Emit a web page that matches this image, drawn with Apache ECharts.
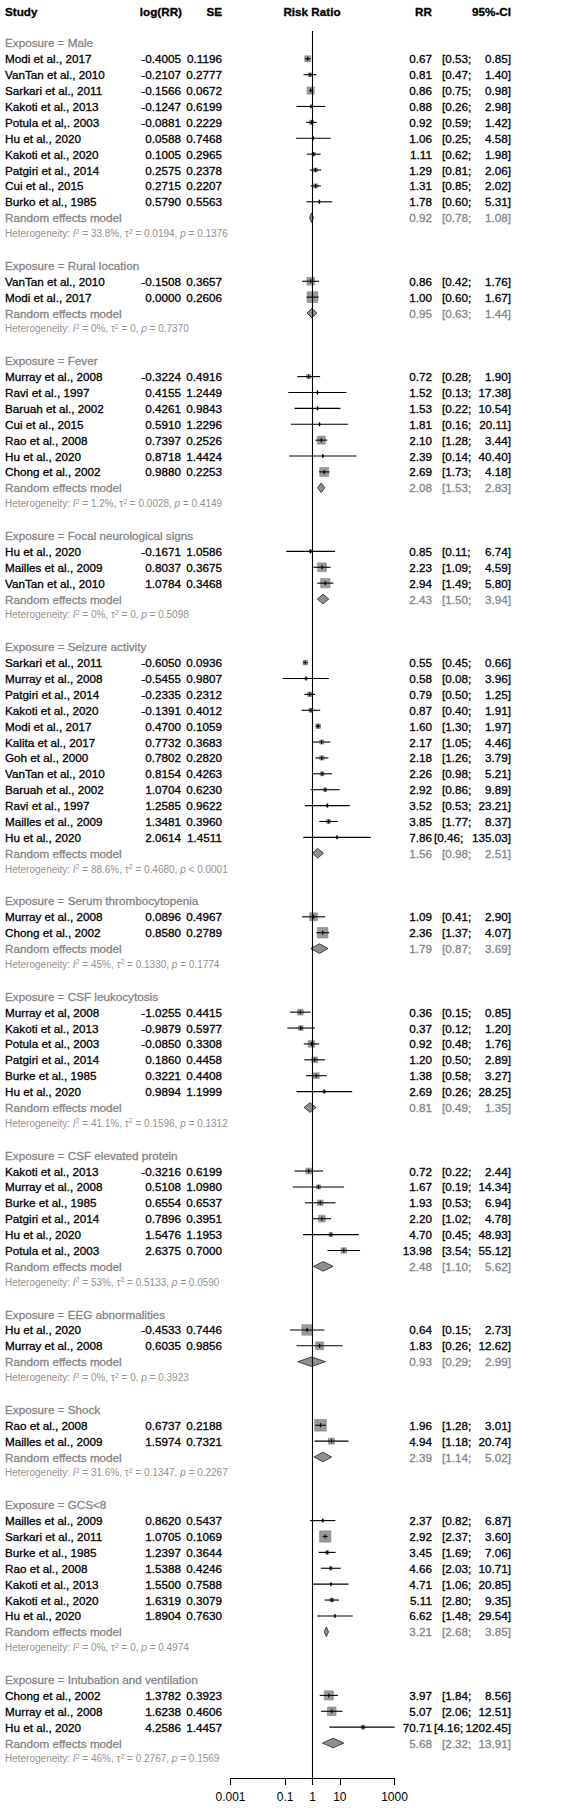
<!DOCTYPE html>
<html><head><meta charset="utf-8">
<script src="https://cdn.jsdelivr.net/npm/echarts@6/dist/echarts.min.js"></script>
<style>html,body{margin:0;padding:0;background:#fff}#c{width:586px;height:1813px}</style>
</head><body><div id="c"></div>
<script>
// ---------- DATA ----------
const groupNames = ['Male','Rural location','Fever','Focal neurological signs','Seizure activity','Serum thrombocytopenia','CSF leukocytosis','CSF elevated protein','EEG abnormalities','Shock','GCS<8','Intubation and ventilation'];
const groupSizes = [10,2,7,3,12,2,6,6,2,2,7,3];
const studyNames = [
 'Modi et al., 2017','VanTan et al., 2010','Sarkari et al., 2011','Kakoti et al., 2013','Potula et al,. 2003','Hu et al., 2020','Kakoti et al., 2020','Patgiri et al., 2014','Cui et al., 2015','Burko et al., 1985',
 'VanTan et al., 2010','Modi et al., 2017',
 'Murray et al., 2008','Ravi et al., 1997','Baruah et al., 2002','Cui et al., 2015','Rao et al., 2008','Hu et al., 2020','Chong et al., 2002',
 'Hu et al., 2020','Mailles et al., 2009','VanTan et al., 2010',
 'Sarkari et al., 2011','Murray et al., 2008','Patgiri et al., 2014','Kakoti et al., 2020','Modi et al., 2017','Kalita et al., 2017','Goh et al., 2000','VanTan et al., 2010','Baruah et al., 2002','Ravi et al., 1997','Mailles et al., 2009','Hu et al., 2020',
 'Murray et al., 2008','Chong et al., 2002',
 'Murray et al, 2008','Kakoti et al., 2013','Potula et al., 2003','Patgiri et al., 2014','Burke et al., 1985','Hu et al., 2020',
 'Kakoti et al., 2013','Murray et al., 2008','Burke et al., 1985','Patgiri et al., 2014','Hu et al., 2020','Potula et al., 2003',
 'Hu et al., 2020','Murray et al., 2008',
 'Rao et al., 2008','Mailles et al., 2009',
 'Mailles et al., 2009','Sarkari et al., 2011','Burke et al., 1985','Rao et al., 2008','Kakoti et al., 2013','Kakoti et al., 2020','Hu et al., 2020',
 'Chong et al., 2002','Murray et al., 2008','Hu et al., 2020'
];
const logRR = [
 -0.4005,-0.2107,-0.1566,-0.1247,-0.0881,0.0588,0.1005,0.2575,0.2715,0.5790,
 -0.1508,0.0000,
 -0.3224,0.4155,0.4261,0.5910,0.7397,0.8718,0.9880,
 -0.1671,0.8037,1.0784,
 -0.6050,-0.5455,-0.2335,-0.1391,0.4700,0.7732,0.7802,0.8154,1.0704,1.2585,1.3481,2.0614,
 0.0896,0.8580,
 -1.0255,-0.9879,-0.0850,0.1860,0.3221,0.9894,
 -0.3216,0.5108,0.6554,0.7896,1.5476,2.6375,
 -0.4533,0.6035,
 0.6737,1.5974,
 0.8620,1.0705,1.2397,1.5388,1.5500,1.6319,1.8904,
 1.3782,1.6238,4.2586
];
const seVals = [
 0.1196,0.2777,0.0672,0.6199,0.2229,0.7468,0.2965,0.2378,0.2207,0.5563,
 0.3657,0.2606,
 0.4916,1.2449,0.9843,1.2296,0.2526,1.4424,0.2253,
 1.0586,0.3675,0.3468,
 0.0936,0.9807,0.2312,0.4012,0.1059,0.3683,0.2820,0.4263,0.6230,0.9622,0.3960,1.4511,
 0.4967,0.2789,
 0.4415,0.5977,0.3308,0.4458,0.4408,1.1999,
 0.6199,1.0980,0.6537,0.3951,1.1953,0.7000,
 0.7446,0.9856,
 0.2188,0.7321,
 0.5437,0.1069,0.3644,0.4246,0.7588,0.3079,0.7630,
 0.3923,0.4606,1.4457
];
const rrVals = [
 0.67,0.81,0.86,0.88,0.92,1.06,1.11,1.29,1.31,1.78,
 0.86,1.00,
 0.72,1.52,1.53,1.81,2.10,2.39,2.69,
 0.85,2.23,2.94,
 0.55,0.58,0.79,0.87,1.60,2.17,2.18,2.26,2.92,3.52,3.85,7.86,
 1.09,2.36,
 0.36,0.37,0.92,1.20,1.38,2.69,
 0.72,1.67,1.93,2.20,4.70,13.98,
 0.64,1.83,
 1.96,4.94,
 2.37,2.92,3.45,4.66,4.71,5.11,6.62,
 3.97,5.07,70.71
];
const ciLow = [
 0.53,0.47,0.75,0.26,0.59,0.25,0.62,0.81,0.85,0.60,
 0.42,0.60,
 0.28,0.13,0.22,0.16,1.28,0.14,1.73,
 0.11,1.09,1.49,
 0.45,0.08,0.50,0.40,1.30,1.05,1.26,0.98,0.86,0.53,1.77,0.46,
 0.41,1.37,
 0.15,0.12,0.48,0.50,0.58,0.26,
 0.22,0.19,0.53,1.02,0.45,3.54,
 0.15,0.26,
 1.28,1.18,
 0.82,2.37,1.69,2.03,1.06,2.80,1.48,
 1.84,2.06,4.16
];
const ciHigh = [
 0.85,1.40,0.98,2.98,1.42,4.58,1.98,2.06,2.02,5.31,
 1.76,1.67,
 1.90,17.38,10.54,20.11,3.44,40.40,4.18,
 6.74,4.59,5.80,
 0.66,3.96,1.25,1.91,1.97,4.46,3.79,5.21,9.89,23.21,8.37,135.03,
 2.90,4.07,
 0.85,1.20,1.76,2.89,3.27,28.25,
 2.44,14.34,6.94,4.78,48.93,55.12,
 2.73,12.62,
 3.01,20.74,
 6.87,3.60,7.06,10.71,20.85,9.35,29.54,
 8.56,12.51,1202.45
];
const remRR   = [0.92,0.95,2.08,2.43,1.56,1.79,0.81,2.48,0.93,2.39,3.21,5.68];
const remLow  = [0.78,0.63,1.53,1.50,0.98,0.87,0.49,1.10,0.29,1.14,2.68,2.32];
const remHigh = [1.08,1.44,2.83,3.94,2.51,3.69,1.35,5.62,2.99,5.02,3.85,13.91];
const hetI2   = ['33.8%','0%','1.2%','0%','88.6%','45%','41.1%','53%','0%','31.6%','0%','46%'];
const hetTau2 = ['0.0194','0','0.0028','0','0.4680','0.1330','0.1596','0.5133','0','0.1347','0','0.2767'];
const hetP    = ['= 0.1376','= 0.7370','= 0.4149','= 0.5098','< 0.0001','= 0.1774','= 0.1312','= 0.0590','= 0.3923','= 0.2267','= 0.4974','= 0.1569'];
const tickValues = [0.001, 0.1, 1, 10, 1000];
const tickLabels = ['0.001','0.1','1','10','1000'];
const headers = ['Study','log(RR)','SE','Risk Ratio','RR','95%-CI'];

// ---------- LAYOUT / STYLE ----------
const FF = '"Liberation Sans", Arial, Helvetica, sans-serif';
const FS = 11.7;
const BLACK = '#000000';
const GREY = '#858585';
const HETGREY = '#929292';
const COL = {name: 5, logrr: 181, se: 222, rr: 432, ciL: 442, ciLwide: 434, ciR: 511, plotMid: 312};

// build row structure
const textRows = [];
const studyMarks = [];
const diamondMarks = [];
textRows.push({row: -2, type: 'header'});
let row = 0, si = 0;
groupNames.forEach((g, gi) => {
  textRows.push({row, type: 'title', gi});
  row++;
  const tau = parseFloat(hetTau2[gi]);
  const idx = [];
  for (let k = 0; k < groupSizes[gi]; k++) idx.push(si + k);
  const w = idx.map(i => 1 / (seVals[i] * seVals[i] + tau));
  const sw = w.reduce((a, b) => a + b, 0);
  idx.forEach((i, k) => {
    textRows.push({row, type: 'study', i});
    studyMarks.push([logRR[i] / Math.LN10, Math.log10(ciLow[i]), Math.log10(ciHigh[i]), row, 100 * w[k] / sw]);
    row++;
  });
  si += groupSizes[gi];
  textRows.push({row, type: 'rem', gi});
  diamondMarks.push([Math.log10(remRR[gi]), Math.log10(remLow[gi]), Math.log10(remHigh[gi]), row]);
  row++;
  textRows.push({row, type: 'het', gi});
  row += 2;
});

const XMIN = Math.log10(tickValues[0]), XMAX = Math.log10(tickValues[tickValues.length - 1]);
const clampX = v => Math.max(XMIN, Math.min(XMAX, v));

function txt(x, y, text, opt) {
  const o = Object.assign({text, fill: BLACK, font: FS + 'px ' + FF, textAlign: 'left', textVerticalAlign: 'middle'}, opt || {});
  if (!o.stroke) { o.stroke = o.fill; o.lineWidth = 0.3; }
  return {type: 'text', x, y, style: o};
}
function fontStr(bold, size) { return (bold ? 'bold ' : '') + (size || FS) + 'px ' + FF; }
function ciTexts(y, lo, hi, color) {
  const loS = '[' + lo.toFixed(2) + ';';
  const hiS = hi.toFixed(2) + ']';
  const xl = hi >= 100 ? COL.ciLwide : COL.ciL;
  return [txt(xl, y, loS, {fill: color}), txt(COL.ciR, y, hiS, {fill: color, textAlign: 'right'})];
}

const chart = echarts.init(document.getElementById('c'), null, {renderer: 'svg', width: 586, height: 1813});
chart.setOption({
  animation: false,
  backgroundColor: '#ffffff',
  grid: {left: 230.5, right: 191.5, top: 31, bottom: 35},
  xAxis: {
    type: 'value', min: XMIN, max: XMAX,
    axisLine: {show: true, onZero: false, lineStyle: {color: '#000', width: 1.1}},
    axisTick: {show: true, length: 7, lineStyle: {color: '#000', width: 1.1}, customValues: tickValues.map(v => Math.log10(v))},
    axisLabel: {show: true, margin: 13, color: '#000', fontSize: 12, fontFamily: FF,
      customValues: tickValues.map(v => Math.log10(v)),
      formatter: v => { const k = tickValues.findIndex(t => Math.abs(Math.log10(t) - v) < 1e-6); return k >= 0 ? tickLabels[k] : ''; }},
    splitLine: {show: false}
  },
  yAxis: {type: 'value', min: -0.75, max: 109.2, inverse: true, show: false},
  series: [
    {
      type: 'custom', name: 'studies', clip: false,
      data: studyMarks,
      renderItem(params, api) {
        const est = api.value(0), lo = clampX(api.value(1)), hi = clampX(api.value(2)), r = api.value(3), pct = api.value(4);
        const p = api.coord([est, r]);
        const pl = api.coord([lo, r]);
        const ph = api.coord([hi, r]);
        const side = 1.32 * Math.sqrt(pct);
        return {type: 'group', children: [
          {type: 'rect', shape: {x: p[0] - side / 2, y: p[1] - side / 2, width: side, height: side},
            style: {fill: '#999999', stroke: '#888888', lineWidth: 0.6}},
          {type: 'line', shape: {x1: pl[0], y1: p[1], x2: ph[0], y2: p[1]}, style: {stroke: '#000', lineWidth: 1.1}},
          {type: 'line', shape: {x1: p[0], y1: p[1] - 2, x2: p[0], y2: p[1] + 2}, style: {stroke: '#000', lineWidth: 1.2}}
        ]};
      },
      markLine: {silent: true, symbol: ['none', 'none'], label: {show: false},
        lineStyle: {color: '#000', width: 1.1, type: 'solid'}, data: [{xAxis: 0}]}
    },
    {
      type: 'custom', name: 'summary', clip: false,
      data: diamondMarks,
      renderItem(params, api) {
        const est = api.value(0), lo = api.value(1), hi = api.value(2), r = api.value(3);
        const p = api.coord([est, r]), pl = api.coord([lo, r]), ph = api.coord([hi, r]);
        const h = 4.8;
        return {type: 'polygon', shape: {points: [[pl[0], p[1]], [p[0], p[1] - h], [ph[0], p[1]], [p[0], p[1] + h]]},
          style: {fill: '#8f8f8f', stroke: '#333', lineWidth: 0.9}};
      }
    },
    {
      type: 'custom', name: 'table', clip: false, silent: true,
      data: textRows.map(t => [0, t.row]),
      renderItem(params, api) {
        const t = textRows[params.dataIndex];
        const y = api.coord([0, api.value(1)])[1];
        const ch = [];
        if (t.type === 'header') {
          ch.push(txt(COL.name, y, headers[0], {font: fontStr(true)}));
          ch.push(txt(COL.logrr + 1, y, headers[1], {font: fontStr(true), textAlign: 'right'}));
          ch.push(txt(COL.se, y, headers[2], {font: fontStr(true), textAlign: 'right'}));
          ch.push(txt(COL.plotMid, y, headers[3], {font: fontStr(true), textAlign: 'center'}));
          ch.push(txt(COL.rr, y, headers[4], {font: fontStr(true), textAlign: 'right'}));
          ch.push(txt(COL.ciR, y, headers[5], {font: fontStr(true), textAlign: 'right'}));
        } else if (t.type === 'title') {
          ch.push(txt(COL.name, y, 'Exposure = ' + groupNames[t.gi], {fill: GREY}));
        } else if (t.type === 'study') {
          const i = t.i;
          ch.push(txt(COL.name, y, studyNames[i]));
          ch.push(txt(COL.logrr, y, logRR[i].toFixed(4), {textAlign: 'right'}));
          ch.push(txt(COL.se, y, seVals[i].toFixed(4), {textAlign: 'right'}));
          ch.push(txt(COL.rr, y, rrVals[i].toFixed(2), {textAlign: 'right'}));
          ciTexts(y, ciLow[i], ciHigh[i], BLACK).forEach(e => ch.push(e));
        } else if (t.type === 'rem') {
          const g = t.gi;
          ch.push(txt(COL.name, y, 'Random effects model', {fill: GREY}));
          ch.push(txt(COL.rr, y, remRR[g].toFixed(2), {fill: GREY, textAlign: 'right'}));
          ciTexts(y, remLow[g], remHigh[g], GREY).forEach(e => ch.push(e));
        } else if (t.type === 'het') {
          const g = t.gi;
          const s = '{n|Heterogeneity: }{i|I}{s|2}{n| = ' + hetI2[g] + ', τ}{s|2}{n| = ' + hetTau2[g] + ', }{i|p}{n| ' + hetP[g] + '}';
          ch.push({type: 'text', x: COL.name, y: y, style: {
            text: s, textAlign: 'left', textVerticalAlign: 'middle', fill: HETGREY, font: '10px ' + FF,
            rich: {
              n: {fill: HETGREY, fontSize: 10, fontFamily: FF, lineHeight: 12, verticalAlign: 'middle'},
              i: {fill: HETGREY, fontSize: 10, fontFamily: FF, fontStyle: 'italic', lineHeight: 12, verticalAlign: 'middle'},
              s: {fill: HETGREY, fontSize: 7, fontFamily: FF, lineHeight: 8, verticalAlign: 'top'}
            }
          }});
        }
        return {type: 'group', children: ch};
      }
    }
  ]
});
</script>
</body></html>
